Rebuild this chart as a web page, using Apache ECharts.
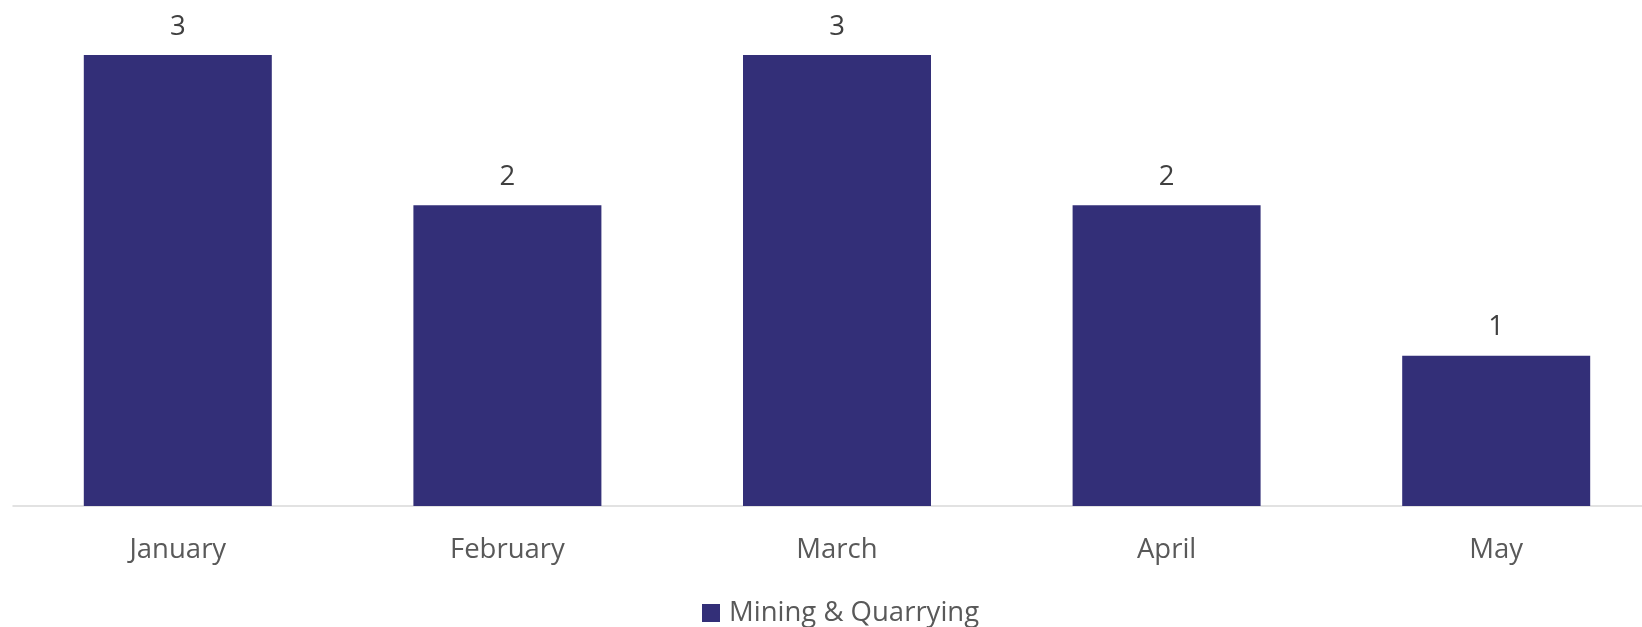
<!DOCTYPE html>
<html>
<head>
<meta charset="utf-8">
<script src="https://cdn.jsdelivr.net/npm/echarts@6/dist/echarts.min.js"></script>
<style>
html,body{margin:0;padding:0;background:#fff;}
#chart{width:1642px;height:627px;}
</style>
</head>
<body>
<div id="chart"></div>
<script>
const categories = ["January", "February", "March", "April", "May"];
const seriesName = "Mining & Quarrying";
const values = [3, 2, 3, 2, 1];

const chart = echarts.init(document.getElementById('chart'), null, {renderer: 'canvas'});
chart.setOption({
  animation: false,
  backgroundColor: '#ffffff',
  textStyle: {fontFamily: 'Open Sans'},
  grid: {left: 13, width: 1648, top: 55, bottom: 121, containLabel: false, outerBoundsMode: 'none'},
  legend: {
    show: true,
    left: 697,
    top: 594,
    itemWidth: 18,
    itemHeight: 18,
    icon: 'rect',
    textStyle: {fontFamily: 'Open Sans', fontSize: 27.5, color: '#595959', padding: [0, 0, 0, 4]},
    data: [seriesName]
  },
  xAxis: {
    type: 'category',
    data: categories,
    axisLine: {show: true, lineStyle: {color: '#d9d9d9', width: 1.5}},
    axisTick: {show: false},
    axisLabel: {fontFamily: 'Open Sans', fontSize: 27.5, color: '#595959', margin: 30}
  },
  yAxis: {
    type: 'value',
    min: 0,
    max: 3,
    show: false,
    splitLine: {show: false}
  },
  series: [{
    name: seriesName,
    type: 'bar',
    data: values,
    barWidth: 188,
    itemStyle: {color: '#332F78'},
    label: {
      show: true,
      position: 'top',
      distance: 14,
      fontFamily: 'Open Sans',
      fontSize: 27.5,
      color: '#404040'
    }
  }]
});
</script>
</body>
</html>
